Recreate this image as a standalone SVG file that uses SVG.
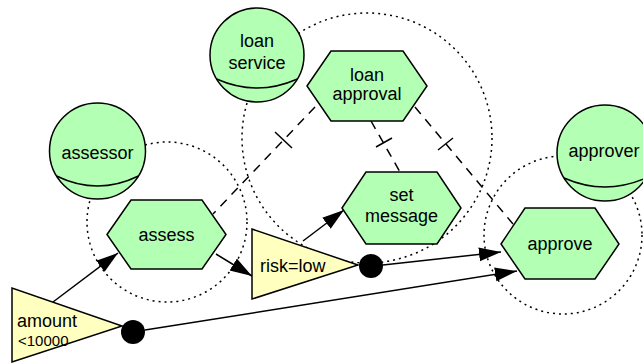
<svg xmlns="http://www.w3.org/2000/svg" width="643" height="363" viewBox="0 0 643 363">
  <style>
    .scope { fill: none; stroke: #000; stroke-width: 1.5; stroke-dasharray: 2 4; }
    .role { fill: #b3ffb3; stroke: #000; stroke-width: 1.5; }
    .arc { fill: none; stroke: #000; stroke-width: 1.5; }
    .task { fill: #b3ffb3; stroke: #000; stroke-width: 1.5; }
    .cond { fill: #ffffbf; stroke: #000; stroke-width: 1.5; }
    .dot { fill: #000; }
    .flow { fill: none; stroke: #000; stroke-width: 1.5; }
    .link { fill: none; stroke: #000; stroke-width: 1.5; stroke-dasharray: 9 7; }
    .tick { fill: none; stroke: #000; stroke-width: 1.5; }
    text { font-family: "Liberation Sans", Arial, Helvetica, sans-serif; font-size: 18px; fill: #000; }
    .c { text-anchor: middle; }
  </style>
  <defs>
    <marker id="arrow" markerUnits="userSpaceOnUse" markerWidth="24" markerHeight="16" refX="22" refY="7" orient="auto">
      <path d="M0,0 L22,7 L0,14 Z" fill="#000"/>
    </marker>
  </defs>

  <!-- dotted scopes -->
  <g id="scopes">
    <circle class="scope" cx="167" cy="222" r="80"/>
    <circle class="scope" cx="367" cy="138" r="125"/>
    <circle class="scope" cx="563" cy="235" r="79"/>
  </g>

  <!-- connectors -->
  <g id="connectors">
    <line class="flow" x1="53" y1="302" x2="118" y2="253" marker-end="url(#arrow)"/>
    <line class="flow" x1="216" y1="254" x2="252" y2="276" marker-end="url(#arrow)"/>
    <line class="flow" x1="303" y1="241" x2="344" y2="210" marker-end="url(#arrow)"/>
    <line class="flow" x1="383" y1="265" x2="501" y2="252" marker-end="url(#arrow)"/>
    <line class="flow" x1="145" y1="330" x2="517" y2="271" marker-end="url(#arrow)"/>

    <line class="link" x1="315" y1="107" x2="213" y2="214"/>
    <line class="tick" x1="275" y1="132" x2="292" y2="148"/>
    <line class="link" x1="371" y1="121" x2="400" y2="172"/>
    <line class="tick" x1="376" y1="147" x2="392" y2="138"/>
    <line class="link" x1="415" y1="107" x2="513" y2="224"/>
    <line class="tick" x1="438" y1="150" x2="453" y2="138"/>
  </g>

  <!-- roles -->
  <g id="loan-service">
    <circle class="role" cx="257" cy="55" r="47"/>
    <path class="arc" d="M216.6,79 Q257,97 297.4,79"/>
    <text class="c" x="257" y="47">loan</text>
    <text class="c" x="257" y="69">service</text>
  </g>
  <g id="assessor">
    <circle class="role" cx="97.5" cy="151" r="48"/>
    <path class="arc" d="M56.5,176 Q97.5,196 138.5,176"/>
    <text class="c" x="97.5" y="159">assessor</text>
  </g>
  <g id="approver">
    <circle class="role" cx="605" cy="153" r="48"/>
    <path class="arc" d="M564,178 Q605,196 646,178"/>
    <text class="c" x="604" y="157">approver</text>
  </g>

  <!-- tasks -->
  <g id="loan-approval">
    <polygon class="task" points="307,86 331,51 403,51 427,86 403,121 331,121"/>
    <text class="c" x="367" y="81">loan</text>
    <text class="c" x="367" y="100">approval</text>
  </g>
  <g id="assess">
    <polygon class="task" points="107,234.5 131,200 202,200 226,234.5 202,269 131,269"/>
    <text class="c" x="166.5" y="241">assess</text>
  </g>
  <g id="set-message">
    <polygon class="task" points="342,208 366,172 437,172 461,208 437,244 366,244"/>
    <text class="c" x="401.5" y="201">set</text>
    <text class="c" x="401.5" y="222">message</text>
  </g>
  <g id="approve">
    <polygon class="task" points="501,244 525,208 595,208 619,244 595,279 525,279"/>
    <text class="c" x="560" y="250">approve</text>
  </g>

  <!-- conditions -->
  <g id="risk-low">
    <polygon class="cond" points="252,229 252,299 358,265"/>
    <circle class="dot" cx="371" cy="266" r="12"/>
    <text x="260" y="272">risk=low</text>
  </g>
  <g id="amount">
    <polygon class="cond" points="12,288 12,362 122,326"/>
    <circle class="dot" cx="133" cy="332" r="12"/>
    <text x="17" y="327">amount</text>
    <text x="18" y="346" style="font-size:15px">&lt;10000</text>
  </g>
</svg>
